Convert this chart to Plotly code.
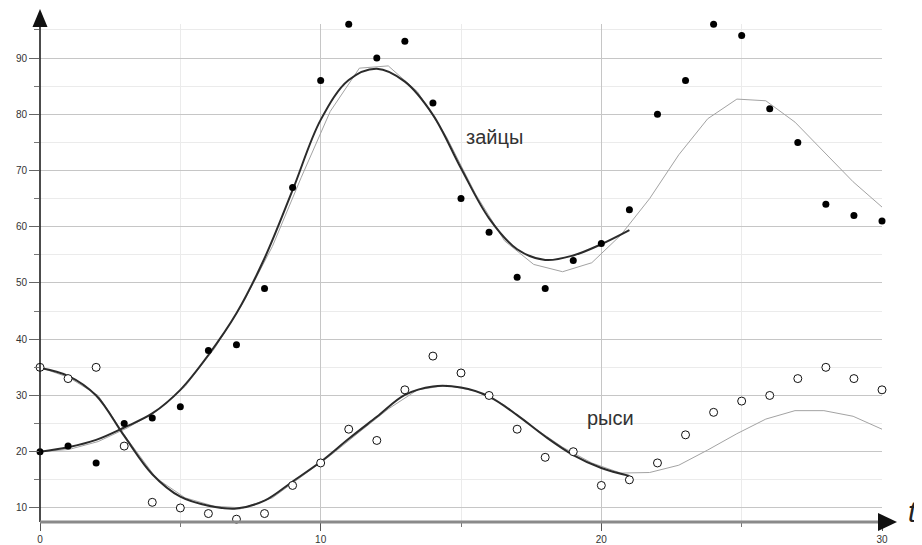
import plotly.graph_objects as go

# ---- data ----
t_obs = list(range(0, 31))
hares = [20, 21, 18, 25, 26, 28, 38, 39, 49, 67, 86, 96, 90, 93, 82, 65, 59, 51, 49, 54,
         57, 63, 80, 86, 96, 94, 81, 75, 64, 62, 61]
lynx = [35, 33, 35, 21, 11, 10, 9, 8, 9, 14, 18, 24, 22, 31, 37, 34, 30, 24, 19, 20,
        14, 15, 18, 23, 27, 29, 30, 33, 35, 33, 31]

t_fit = list(range(0, 22))
hares_fit = [20.0, 20.8, 22.1, 24.3, 26.8, 31.0, 37.2, 44.6, 54.4, 66.5, 79.0, 86.1,
             88.1, 85.8, 79.9, 70.4, 61.5, 56.0, 54.1, 54.9, 56.9, 59.4]
lynx_fit = [34.9, 33.5, 30.0, 22.8, 16.0, 12.0, 10.4, 9.9, 11.3, 14.7, 18.2, 22.3,
            26.2, 30.1, 31.6, 31.4, 29.8, 26.5, 22.7, 19.4, 17.1, 15.7]

t_model = [0, 1.03, 2.07, 3.10, 4.14, 5.17, 6.21, 7.24, 8.28, 9.31, 10.34, 11.38, 12.41,
           13.45, 14.48, 15.52, 16.55, 17.59, 18.62, 19.66, 20.69, 21.72, 22.76, 23.79,
           24.83, 25.86, 26.90, 27.93, 28.97, 30.0]
hares_model = [20.0, 20.4, 21.8, 24.2, 27.2, 31.6, 38.3, 46.5, 56.5, 68.8, 80.5, 88.2,
               88.6, 84.0, 76.0, 65.8, 57.5, 53.3, 52.0, 53.6, 58.5, 65.0, 72.8, 79.2,
               82.7, 82.4, 78.6, 73.3, 68.0, 63.5]
lynx_model = [35.0, 33.2, 30.0, 22.3, 15.3, 11.8, 10.3, 10.0, 11.8, 15.6, 19.3, 23.5,
              27.6, 31.0, 31.8, 30.8, 28.3, 24.3, 20.8, 18.0, 16.2, 16.3, 17.6, 20.3,
              23.2, 25.8, 27.3, 27.3, 26.3, 24.0]

x_ticks = [0, 10, 20, 30]
y_ticks = [10, 20, 30, 40, 50, 60, 70, 80, 90]

# ---- figure (page body has an 8px margin) ----
OFF = 8
W, H = 922 - OFF, 545 - OFF
PL, PR, PT, PB = 40, 882, 24, 522          # plot area in window pixels
ML, MT = PL - OFF, PT - OFF
MR, MB = W - (PR - OFF), H - (PB - OFF)
PW, PH = PR - PL, PB - PT


def px(xp):
    return (xp - PL) / PW


def py(yp):
    return (PB - yp) / PH


fig = go.Figure()

fig.add_trace(go.Scatter(x=t_model, y=hares_model, mode="lines",
                         line=dict(color="#a3a3a3", width=1), hoverinfo="skip"))
fig.add_trace(go.Scatter(x=t_model, y=lynx_model, mode="lines",
                         line=dict(color="#a3a3a3", width=1), hoverinfo="skip"))
fig.add_trace(go.Scatter(x=t_fit, y=hares_fit, mode="lines",
                         line=dict(color="#2b2b2b", width=2, shape="spline", smoothing=1)))
fig.add_trace(go.Scatter(x=t_fit, y=lynx_fit, mode="lines",
                         line=dict(color="#2b2b2b", width=2, shape="spline", smoothing=1)))
fig.add_trace(go.Scatter(x=t_obs, y=hares, mode="markers", cliponaxis=False,
                         marker=dict(color="#000000", size=7, line=dict(width=0))))
fig.add_trace(go.Scatter(x=t_obs, y=lynx, mode="markers", cliponaxis=False,
                         marker=dict(color="#ffffff", size=8,
                                     line=dict(color="#111111", width=1))))

shapes = [
    # y axis line
    dict(type="line", xref="paper", yref="paper", x0=0, x1=0, y0=0, y1=py(27),
         line=dict(color="#111111", width=1.5), layer="above"),
    # x axis line
    dict(type="line", xref="paper", yref="paper", x0=0, x1=px(880), y0=0, y1=0,
         line=dict(color="#8a8a8a", width=3), layer="above"),
    # y arrow
    dict(type="path", xref="paper", yref="paper",
         path=f"M {px(40)},{py(9)} L {px(32.5)},{py(27)} L {px(47.5)},{py(27)} Z",
         fillcolor="#111111", line=dict(width=0), layer="above"),
    # x arrow
    dict(type="path", xref="paper", yref="paper",
         path=f"M {px(897)},{py(522)} L {px(878)},{py(513)} L {px(878)},{py(531)} Z",
         fillcolor="#111111", line=dict(width=0), layer="above"),
]

annotations = [
    dict(x=16.2, y=76.0, xref="x", yref="y", text="зайцы", showarrow=False,
         font=dict(family="Liberation Sans, Arial", size=20, color="#333333")),
    dict(x=20.32, y=26.0, xref="x", yref="y", text="рыси", showarrow=False,
         font=dict(family="Liberation Sans, Arial", size=20, color="#333333")),
    dict(x=px(913), y=py(512), xref="paper", yref="paper", text="<i>t</i>",
         showarrow=False, xanchor="center", yanchor="middle",
         font=dict(family="Liberation Sans, Arial", size=29, color="#222222")),
]

fig.update_layout(
    width=W, height=H,
    margin=dict(l=ML, r=MR, t=MT, b=MB, pad=0, autoexpand=False),
    paper_bgcolor="white", plot_bgcolor="white",
    showlegend=False,
    shapes=shapes, annotations=annotations,
    font=dict(family="Liberation Sans, Arial", size=10, color="#333333"),
    xaxis=dict(range=[0, 30], tickvals=x_ticks, ticks="outside", ticklen=8,
               tickcolor="#555555", tickwidth=1, showgrid=True, gridcolor="#c6c6c6",
               gridwidth=1, zeroline=False, showline=False, automargin=False,
               tickfont=dict(size=10, color="#333333"),
               minor=dict(dtick=5, tick0=0, showgrid=True, gridcolor="#ebebeb",
                          ticks="outside", ticklen=4, tickcolor="#777777")),
    yaxis=dict(range=[7.5, 96.05], tickvals=y_ticks, ticks="outside", ticklen=10,
               tickcolor="#666666", tickwidth=1, showgrid=True, gridcolor="#c6c6c6",
               gridwidth=1, zeroline=False, showline=False, automargin=False,
               tickfont=dict(size=10, color="#333333"),
               minor=dict(dtick=5, tick0=0, showgrid=True, gridcolor="#ebebeb",
                          ticks="outside", ticklen=5, tickcolor="#777777")),
)

fig.write_html("out.html")
